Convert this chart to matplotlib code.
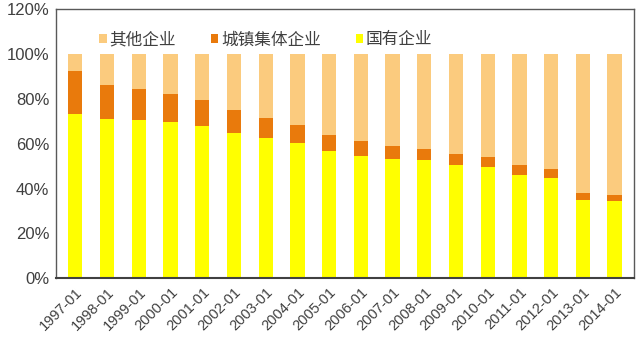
import numpy as np
import matplotlib.pyplot as plt

plt.rcParams['font.family'] = ['Liberation Sans', 'Noto Sans CJK SC', 'DejaVu Sans']

# Données (parts en %)
annees = ["1997-01", "1998-01", "1999-01", "2000-01", "2001-01", "2002-01",
          "2003-01", "2004-01", "2005-01", "2006-01", "2007-01", "2008-01",
          "2009-01", "2010-01", "2011-01", "2012-01", "2013-01", "2014-01"]
guoyou = [73.0, 71.0, 70.4, 69.7, 67.9, 64.9, 62.4, 60.2, 56.8,
          54.7, 53.2, 52.6, 50.7, 49.6, 46.1, 44.6, 34.8, 34.3]
cumul_jiti = [92.3, 86.3, 84.2, 82.0, 79.6, 75.0, 71.5, 68.4, 63.7,
              61.2, 59.1, 57.6, 55.6, 54.2, 50.5, 48.5, 37.9, 37.3]

guoyou = np.array(guoyou)
jiti = np.array(cumul_jiti) - guoyou
qita = 100 - np.array(cumul_jiti)

c_guoyou = "#FFFF00"
c_jiti = "#E97A0C"
c_qita = "#FBCB7E"

fig = plt.figure(figsize=(6.4, 3.56), dpi=100)
ax = fig.add_axes([0.088, 0.218, 0.902, 0.757])

x = np.arange(len(annees))
w = 0.45
b1 = ax.bar(x, guoyou, w, color=c_guoyou, label="国有企业")
b2 = ax.bar(x, jiti, w, bottom=guoyou, color=c_jiti, label="城镇集体企业")
b3 = ax.bar(x, qita, w, bottom=guoyou + jiti, color=c_qita, label="其他企业")

ax.set_ylim(0, 120)
ax.set_xlim(-0.6, len(annees) - 0.4)
ax.set_yticks(range(0, 121, 20))
ax.set_yticklabels([f"{v}%" for v in range(0, 121, 20)], fontsize=12, color="#404040")
ax.set_xticks(x)
ax.set_xticklabels(annees, rotation=45, ha="right", rotation_mode="anchor",
                   fontsize=10.5, color="#404040")
ax.tick_params(length=0, pad=5)

for s in ax.spines.values():
    s.set_color("#595959")
    s.set_linewidth(1.0)
ax.spines["bottom"].set_color("#404040")
ax.spines["bottom"].set_linewidth(1.5)

leg = ax.legend(handles=[b3, b2, b1], loc="center", bbox_to_anchor=(0.363, 0.885),
                ncol=3, frameon=False, handlelength=0.45, handleheight=0.45,
                handletextpad=0.15, columnspacing=2.1,
                prop={"family": ["Noto Sans CJK SC"], "size": 12})
for t in leg.get_texts():
    t.set_color("#404040")

plt.savefig("out.png", dpi=100)
plt.close()
